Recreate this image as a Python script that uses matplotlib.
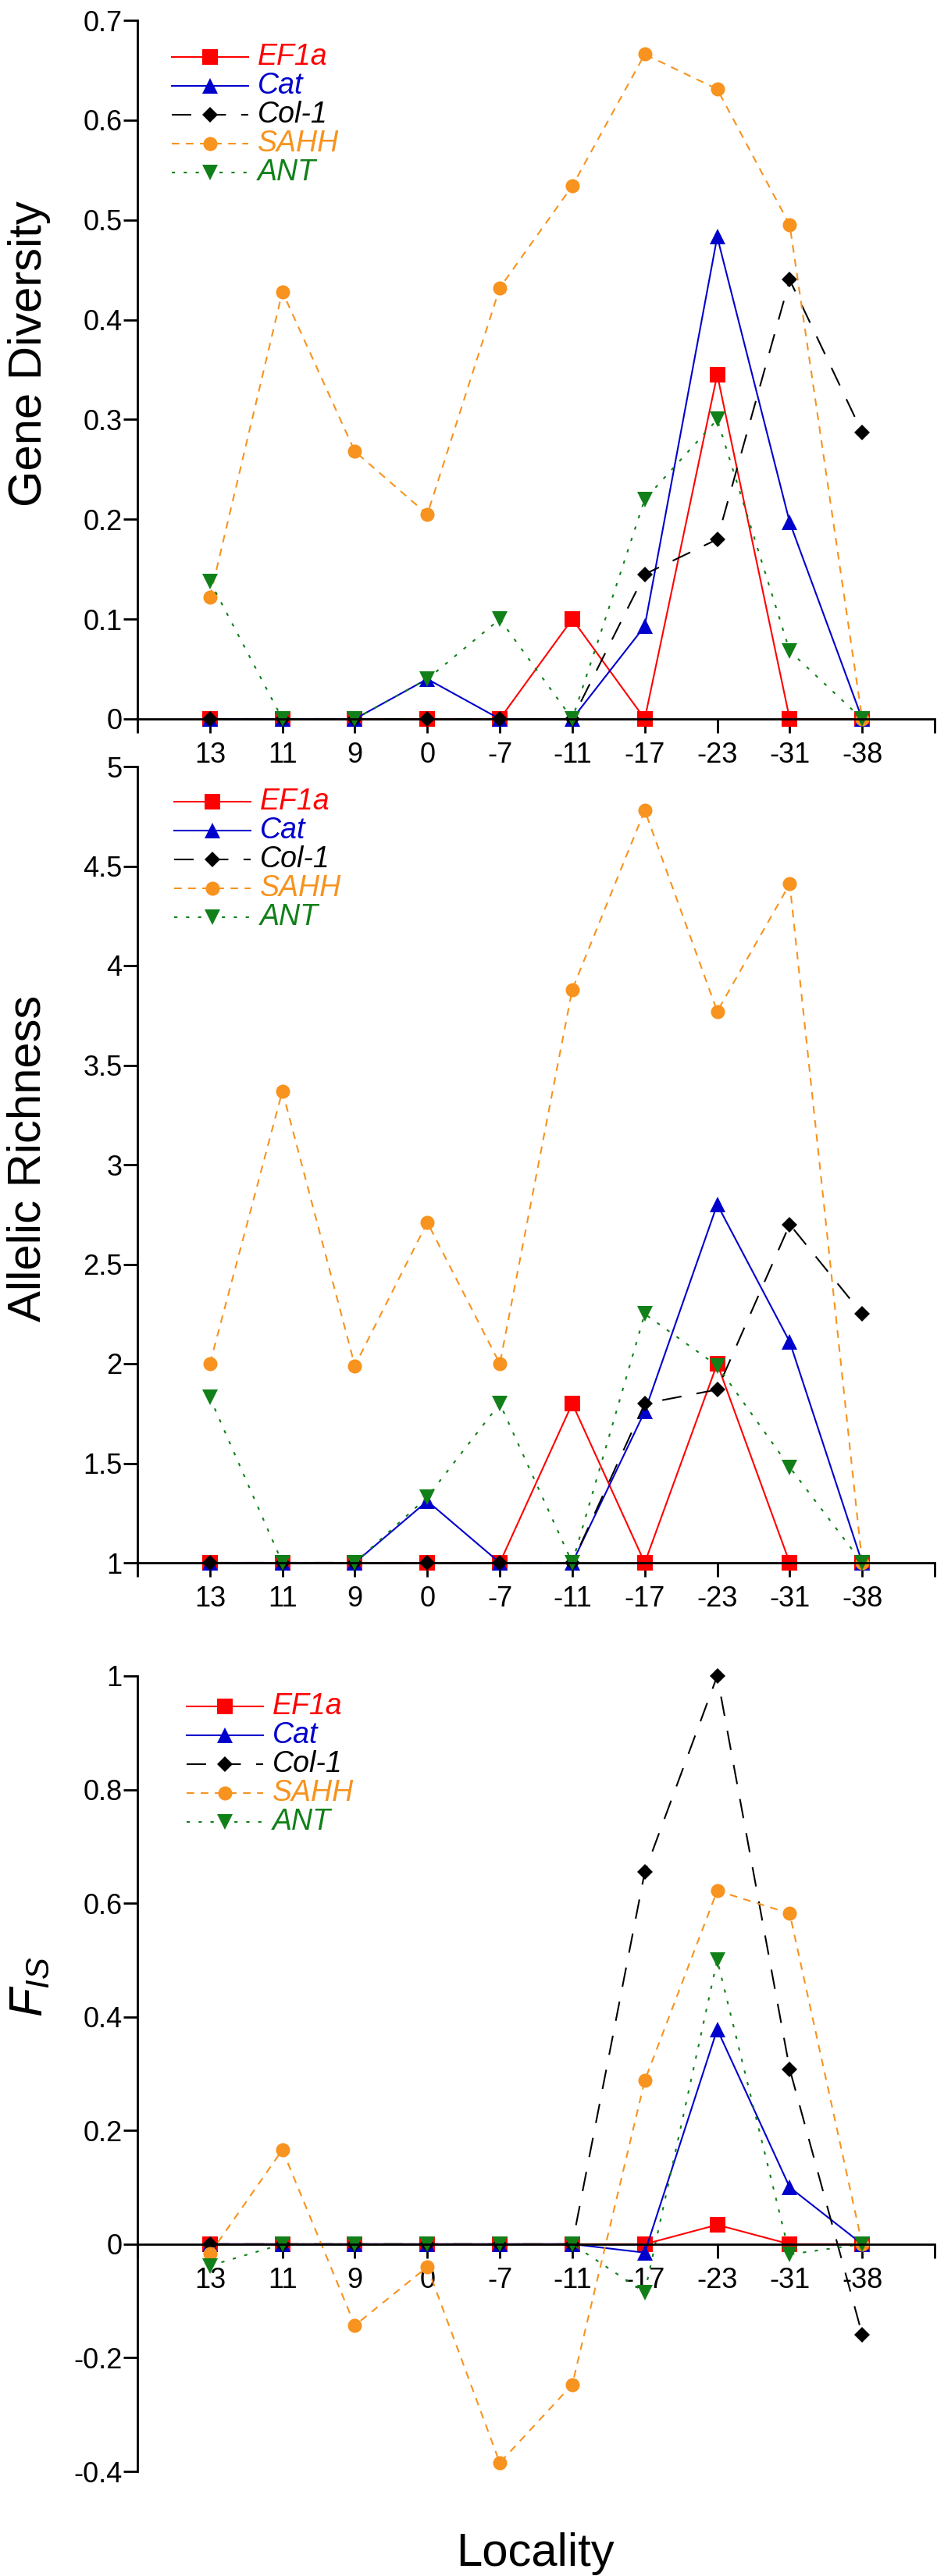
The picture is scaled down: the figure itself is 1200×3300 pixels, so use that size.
import numpy as np
import matplotlib
matplotlib.use('Agg')
import matplotlib.pyplot as plt

plt.rcParams['font.family'] = ['Liberation Sans', 'DejaVu Sans']
plt.rcParams['mathtext.fontset'] = 'custom'
plt.rcParams['mathtext.it'] = 'Liberation Sans:italic'
plt.rcParams['mathtext.rm'] = 'Liberation Sans'
plt.rcParams['lines.scale_dashes'] = False

# localities (x axis)
loc_labels = ['13', '11', '9', '0', '-7', '-11', '-17', '-23', '-31', '-38']
genes = ['EF1a', 'Cat', 'Col-1', 'SAHH', 'ANT']

# gene diversity
gd_ef1a = [0, 0, 0, 0, 0, 0.10, 0, 0.345, 0, 0]
gd_cat = [0, 0, 0, 0.04, 0, 0, 0.093, 0.483, 0.197, 0]
gd_col1 = [0, 0, 0, 0, 0, 0, 0.145, 0.18, 0.44, 0.287]
gd_sahh = [0.122, 0.428, 0.268, 0.205, 0.432, 0.534, 0.666, 0.631, 0.495, 0]
gd_ant = [0.138, 0, 0, 0.04, 0.10, 0, 0.22, 0.30, 0.068, 0]

# allelic richness
ar_ef1a = [1, 1, 1, 1, 1, 1.8, 1, 2.0, 1, 1]
ar_cat = [1, 1, 1, 1.31, 1, 1, 1.76, 2.80, 2.11, 1]
ar_col1 = [1, 1, 1, 1, 1, 1, 1.80, 1.87, 2.70, 2.25]
ar_sahh = [2.0, 3.37, 1.99, 2.71, 2.0, 3.88, 4.78, 3.77, 4.41, 1]
ar_ant = [1.83, 1, 1, 1.33, 1.80, 1, 2.25, 1.99, 1.48, 1]

# F_IS
fis_ef1a = [0, 0, 0, 0, 0, 0, 0, 0.034, 0, 0]
fis_cat = [0, 0, 0, 0, 0, 0, -0.015, 0.378, 0.10, 0]
fis_col1 = [0, 0, 0, 0, 0, 0, 0.655, 1.0, 0.308, -0.159]
fis_sahh = [-0.017, 0.166, -0.143, -0.04, -0.385, -0.247, 0.288, 0.622, 0.582, 0]
fis_ant = [-0.038, 0, 0, 0, 0, 0, -0.085, 0.50, -0.018, 0]

colors = ['#ff0000', '#0000cc', '#000000', '#f7931e', '#118019']
markers = ['s', '^', 'D', 'o', 'v']
msizes = [14, 15, 10, 13, 15]
styles = ['-', '-', (0, (18, 14)), (0, (7, 6)), (0, (3, 8))]

x = np.arange(1, 11)

W, H = 1200., 3300.
fig = plt.figure(figsize=(12, 33), dpi=100)
left = 176 / W
width = (1197 - 176) / W
ax1 = fig.add_axes([left, 1 - 921 / H, width, 895 / H])
ax2 = fig.add_axes([left, 1 - 2002 / H, width, 1020 / H])
ax3 = fig.add_axes([left, 1 - 3166 / H, width, 1019 / H])

# legend placement in pixels: (handle start x, first row y)
panels = [
    (ax1, [gd_ef1a, gd_cat, gd_col1, gd_sahh, gd_ant], (0, 0.7), np.arange(0, 0.71, 0.1),
     ['0', '0.1', '0.2', '0.3', '0.4', '0.5', '0.6', '0.7'], (220, 73)),
    (ax2, [ar_ef1a, ar_cat, ar_col1, ar_sahh, ar_ant], (1, 5), np.arange(1, 5.01, 0.5),
     ['1', '1.5', '2', '2.5', '3', '3.5', '4', '4.5', '5'], (223, 1027)),
    (ax3, [fis_ef1a, fis_cat, fis_col1, fis_sahh, fis_ant], (-0.4, 1), np.arange(-0.4, 1.01, 0.2),
     ['-0.4', '-0.2', '0', '0.2', '0.4', '0.6', '0.8', '1'], (239, 2186)),
]

for ax, series, ylim, yt, ytl, legpos in panels:
    for vals, g, c, m, ms, ls in zip(series, genes, colors, markers, msizes, styles):
        ax.plot(x, vals, color=c, marker=m, markersize=ms, linestyle=ls, linewidth=1.5,
                markeredgewidth=0, label=g, clip_on=False)
    ax.set_xlim(0, 11)
    ax.set_ylim(*ylim)
    ax.set_xticks(np.arange(0, 12))
    ax.set_xticklabels([''] + loc_labels + [''])
    ax.set_yticks(yt)
    ax.set_yticklabels(ytl)
    ax.spines['top'].set_visible(False)
    ax.spines['right'].set_visible(False)
    ax.spines['left'].set_linewidth(2)
    ax.spines['bottom'].set_linewidth(2)
    if ylim[0] < 0:
        ax.spines['bottom'].set_position(('data', 0))
    ax.tick_params(axis='both', direction='out', length=13, width=2, labelsize=26)
    ax.tick_params(axis='y', pad=1)
    ax.tick_params(axis='x', pad=8)

    # legend drawn by hand: line handle with centered marker, coloured italic label
    hx, hy = legpos
    for i, (g, c, m, ms, ls) in enumerate(zip(genes, colors, markers, msizes, styles)):
        yy = 1 - (hy + 37 * i) / H
        x0, x1 = hx / W, (hx + 98) / W
        fig.add_artist(plt.Line2D([x0, (x0 + x1) / 2, x1], [yy, yy, yy], color=c, linestyle=ls,
                                  linewidth=1.5, marker=m, markersize=ms, markevery=[1],
                                  markeredgewidth=0, transform=fig.transFigure))
        fig.text((hx + 110) / W, yy, g, color=c, style='italic', fontsize=27,
                 ha='left', va='center')

fig.text(38 / W, 1 - 453 / H, 'Gene Diversity', rotation=90, ha='center', va='center', fontsize=43)
fig.text(36 / W, 1 - 1484 / H, 'Allelic Richness', rotation=90, ha='center', va='center', fontsize=43)
fig.text(38 / W, 1 - 2545 / H, r'$F_{IS}$', rotation=90, ha='center', va='center', fontsize=43)
fig.text(685 / W, 1 - 3287 / H, 'Locality', ha='center', va='baseline', fontsize=43)

fig.savefig('out.png', dpi=100)
